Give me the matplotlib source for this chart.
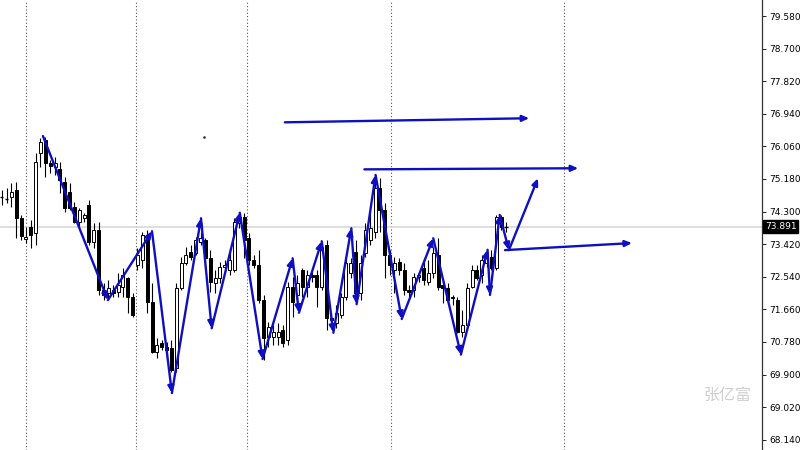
import matplotlib
matplotlib.use("Agg")
import matplotlib.pyplot as plt

# OHLC candles
opens = [74.69, 74.64, 74.69, 74.88, 74.12, 73.56, 73.88, 73.72, 75.88, 76.23,
         75.61, 75.50, 75.45, 75.10, 74.83, 74.42, 74.02, 74.12, 74.48, 73.48,
         73.80, 72.18, 72.10, 72.18, 72.13, 72.26, 72.50, 71.99, 72.86, 72.99,
         73.67, 71.86, 70.51, 70.75, 70.64, 70.61, 70.07, 72.23, 72.91, 73.21,
         73.18, 73.48, 73.53, 73.04, 72.37, 72.50, 72.80, 72.72, 72.72, 73.99,
         74.15, 73.58, 72.99, 72.86, 71.91, 70.91, 70.91, 70.91, 71.10, 70.83,
         72.26, 72.05, 72.72, 72.26, 72.59, 72.59, 72.26, 73.40, 71.42, 71.29,
         71.51, 71.99, 72.64, 73.21, 72.10, 73.18, 73.53, 73.75, 74.93, 74.34,
         73.13, 72.72, 72.94, 72.72, 72.18, 72.18, 72.53, 72.77, 72.40, 72.64,
         73.13, 72.32, 72.23, 71.99, 71.91, 71.05, 71.24, 72.26, 72.72, 72.59,
         72.91, 73.07, 72.77, 74.15, 73.89]
highs = [74.88, 74.93, 75.07, 75.10, 74.21, 73.88, 74.07, 75.88, 76.28, 76.31,
         75.69, 75.77, 75.64, 75.23, 75.07, 74.56, 74.39, 74.26, 74.61, 73.99,
         74.02, 72.37, 72.45, 72.32, 72.64, 72.77, 72.53, 72.10, 73.31, 73.75,
         73.80, 72.37, 70.88, 70.83, 70.78, 70.83, 72.37, 73.07, 73.34, 73.40,
         73.61, 73.75, 73.58, 73.26, 72.72, 72.94, 72.99, 73.31, 74.12, 74.29,
         74.26, 73.72, 73.13, 73.26, 72.05, 71.32, 71.24, 71.29, 71.24, 72.40,
         72.53, 72.59, 72.77, 72.72, 72.67, 72.72, 73.45, 73.53, 71.56, 71.78,
         72.10, 72.99, 73.04, 73.53, 73.13, 73.99, 74.29, 75.10, 75.20, 74.53,
         73.26, 73.07, 73.04, 72.91, 72.32, 72.64, 72.67, 73.04, 72.99, 73.34,
         73.58, 72.40, 72.37, 72.05, 71.99, 71.64, 72.37, 72.86, 72.86, 73.13,
         73.26, 73.26, 74.21, 74.21, 74.02]
lows = [74.48, 74.53, 74.42, 73.58, 73.53, 73.45, 73.31, 73.40, 75.50, 75.23,
        75.34, 75.29, 74.80, 74.29, 74.34, 73.99, 73.88, 74.02, 73.40, 73.31,
        72.05, 71.91, 71.91, 71.99, 71.99, 71.99, 71.56, 71.45, 72.72, 72.77,
        71.56, 70.48, 70.34, 70.56, 70.34, 69.97, 69.97, 72.18, 72.86, 72.99,
        73.13, 73.40, 72.80, 72.13, 72.10, 72.37, 72.67, 72.59, 72.67, 73.85,
        73.04, 72.86, 72.77, 71.83, 70.29, 70.64, 70.70, 70.70, 70.64, 70.70,
        71.45, 71.91, 71.99, 71.99, 72.40, 71.72, 72.18, 71.10, 71.29, 71.15,
        71.42, 71.91, 72.50, 71.91, 71.91, 73.07, 73.40, 73.58, 73.75, 72.50,
        72.59, 72.10, 72.59, 72.05, 71.99, 71.99, 72.40, 72.32, 72.32, 72.50,
        72.18, 71.83, 71.83, 71.78, 71.02, 70.91, 71.10, 72.23, 72.45, 72.37,
        72.80, 72.72, 72.72, 73.80, 73.75]
closes = [74.70, 74.65, 74.83, 74.12, 73.64, 73.61, 73.67, 75.64, 76.18, 75.61,
          75.53, 75.61, 75.15, 74.39, 74.39, 74.02, 74.34, 74.21, 73.48, 73.80,
          72.18, 72.05, 72.23, 72.10, 72.32, 72.59, 71.99, 71.51, 73.13, 73.67,
          71.86, 70.51, 70.70, 70.64, 70.56, 70.02, 72.23, 72.91, 73.13, 73.07,
          73.53, 73.58, 73.04, 72.40, 72.50, 72.80, 72.86, 72.99, 74.02, 74.15,
          73.53, 72.99, 72.86, 71.91, 70.88, 71.18, 71.05, 71.05, 70.75, 72.26,
          71.86, 72.37, 72.26, 72.59, 72.53, 72.26, 73.34, 71.42, 71.37, 71.56,
          71.99, 72.91, 72.91, 72.10, 72.91, 73.80, 73.85, 74.93, 74.34, 73.13,
          72.86, 72.91, 72.72, 72.18, 72.13, 72.53, 72.59, 72.45, 72.64, 73.18,
          72.26, 72.23, 71.91, 71.96, 71.05, 71.24, 72.23, 72.72, 72.50, 72.99,
          73.07, 72.77, 74.15, 73.88, 73.891]

last_price = 73.891

# zigzag turning points (bar index, price)
zz_x = [8.5, 21.9, 31.0, 35.1, 41.1, 43.3, 49.1, 53.8, 60.0, 61.3, 66.0, 68.4,
        72.1, 73.2, 77.1, 82.5, 89.0, 94.7, 100.2, 100.7, 102.7, 104.6, 110.6]
zz_y = [76.34, 71.91, 73.77, 69.40, 74.12, 71.15, 74.27, 70.32, 73.04, 71.57,
        73.50, 71.03, 73.85, 71.80, 75.29, 71.40, 73.58, 70.44, 73.27, 72.05,
        74.21, 73.26, 75.20]

# level arrows
lvl_x0 = [58.4, 74.8, 103.8]
lvl_y0 = [76.71, 75.44, 73.26]
lvl_x1 = [108.8, 118.9, 130.0]
lvl_y1 = [76.82, 75.47, 73.45]

# period separators (bar index)
sep_x = [5.0, 27.8, 50.6, 80.2, 116.0]

yticks = [79.58, 78.70, 77.82, 76.94, 76.06, 75.18, 74.30, 73.42, 72.54,
          71.66, 70.78, 69.90, 69.02, 68.14]

blue = "#0F0FC0"

fig = plt.figure(figsize=(8, 4.5), dpi=100)
ax = fig.add_axes([0, 0, 762 / 800, 1])

# separators and last price line
for sx in sep_x:
    ax.axvline(sx, color="#555555", lw=0.8, ls=(0, (1, 2)), zorder=1)
ax.axhline(last_price, color="#d9d9d9", lw=1.2, zorder=1)

# candles
for i in range(len(opens)):
    o, h, l, c = opens[i], highs[i], lows[i], closes[i]
    ax.vlines(i, l, h, color="black", lw=0.8, zorder=2)
    lo, hi = min(o, c), max(o, c)
    if hi - lo < 0.03:
        ax.hlines(o, i - 0.32, i + 0.32, color="black", lw=1.0, zorder=3)
    else:
        ax.bar(i, hi - lo, bottom=lo, width=0.62,
               color="white" if c > o else "black",
               edgecolor="black", linewidth=0.7, zorder=3)

# zigzag arrows
arrow = dict(arrowstyle="-|>,head_length=0.5,head_width=0.22", color=blue,
             lw=1.7, shrinkA=0, shrinkB=0, mutation_scale=8)
for k in range(len(zz_x) - 1):
    ax.annotate("", xy=(zz_x[k + 1], zz_y[k + 1]), xytext=(zz_x[k], zz_y[k]),
                arrowprops=arrow, zorder=5)
for k in range(len(lvl_x0)):
    ax.annotate("", xy=(lvl_x1[k], lvl_y1[k]), xytext=(lvl_x0[k], lvl_y0[k]),
                arrowprops=arrow, zorder=5)

ax.plot(41.7, 76.31, marker="s", ms=0.8, color="#333333")

ax.set_xlim(-0.35, 156.8)
ax.set_ylim(67.864, 80.012)

for s in ["left", "top", "bottom"]:
    ax.spines[s].set_visible(False)
ax.spines["right"].set_color("#333333")
ax.spines["right"].set_linewidth(0.9)
ax.set_xticks([])
ax.yaxis.tick_right()
ax.set_yticks(yticks)
ax.set_yticklabels(["%.3f" % v for v in yticks])
ax.tick_params(axis="y", direction="out", length=3, width=0.6,
               labelsize=6.5, pad=2, colors="black")

ax.text(1.004, last_price, "%.3f" % last_price, transform=ax.get_yaxis_transform(),
        ha="left", va="center", color="white", fontsize=6.5,
        bbox=dict(boxstyle="square,pad=0.2", fc="black", ec="black"))

fig.text(728 / 800, 1 - 395 / 450, "张亿富", family=["Noto Sans CJK SC", "DejaVu Sans"],
         color="#cfcfcf", fontsize=11.5, ha="center", va="center")

fig.savefig("out.png", dpi=100)
